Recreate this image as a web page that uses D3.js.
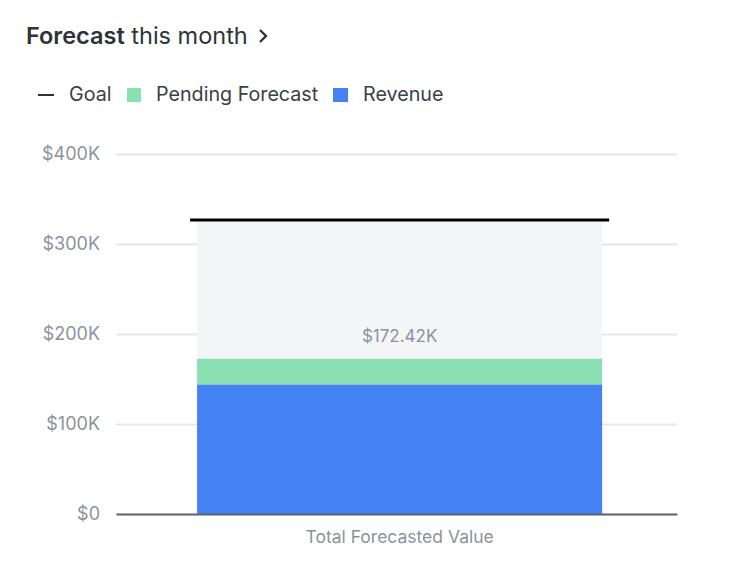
<!DOCTYPE html>
<html lang="en">
<head>
    <meta charset="UTF-8">
    <title>Forecast this month</title>
    <script src="https://cdnjs.cloudflare.com/ajax/libs/d3/7.8.5/d3.min.js"></script>
    <style>
        body { margin: 0; background: #fff; }
        text { font-family: Inter, "Noto Sans", sans-serif; }
    </style>
</head>
<body>
    <div id="chart"></div>
    <script>
        // data
        const categories = ['Total Forecasted Value'];
        const revenue = [144000];
        const pending = [28420];
        const goal = [325500];
        const yTicks = [0, 100000, 200000, 300000, 400000];
        const yTickLabels = ['$0', '$100K', '$200K', '$300K', '$400K'];
        const legendItems = ['Goal', 'Pending Forecast', 'Revenue'];

        const W = 750, H = 569;
        const margin = { top: 154, right: 73, bottom: 55, left: 116 };

        const svg = d3.select('#chart')
            .append('svg')
            .attr('width', W)
            .attr('height', H);

        // title
        const title = svg.append('text')
            .attr('x', 26)
            .attr('y', 44)
            .attr('font-size', 23.5)
            .attr('fill', '#2d3339');
        title.append('tspan').attr('font-weight', 600).text('Forecast');
        title.append('tspan').text(' this month');
        // chevron
        svg.append('path')
            .attr('d', 'M260,30 L266,36 L260,42')
            .attr('fill', 'none')
            .attr('stroke', '#2d3339')
            .attr('stroke-width', 2.4);

        // legend
        const lg = svg.append('g').attr('font-size', 19.7).attr('fill', '#3a4046');
        lg.append('line')
            .attr('x1', 38).attr('x2', 54).attr('y1', 95).attr('y2', 95)
            .attr('stroke', '#2d3339').attr('stroke-width', 2);
        lg.append('text').attr('x', 69).attr('y', 101).text(legendItems[0]);
        lg.append('rect').attr('x', 127).attr('y', 88).attr('width', 14).attr('height', 14).attr('fill', '#8adfb3');
        lg.append('text').attr('x', 156).attr('y', 101).text(legendItems[1]);
        lg.append('rect').attr('x', 333).attr('y', 88).attr('width', 15).attr('height', 14).attr('fill', '#4481f2');
        lg.append('text').attr('x', 363).attr('y', 101).text(legendItems[2]);

        // scales
        const y = d3.scaleLinear()
            .domain([0, 400000])
            .range([H - margin.bottom, margin.top]);

        const x = d3.scaleBand()
            .domain(categories)
            .range([margin.left, W - margin.right])
            .padding(0.1614)
            .align(0.52);

        // grid + y labels
        const yAxis = d3.axisLeft(y)
            .tickValues(yTicks)
            .tickSize(-(W - margin.left - margin.right))
            .tickPadding(16)
            .tickFormat(function (d, i) { return yTickLabels[i]; });

        const gy = svg.append('g')
            .attr('transform', `translate(${margin.left},0)`)
            .call(yAxis);
        gy.select('.domain').remove();
        gy.selectAll('.tick line').attr('stroke', '#e3e7ec').attr('stroke-width', 2);
        gy.selectAll('.tick text')
            .attr('fill', '#8b939c')
            .attr('font-size', 18)
            .attr('font-family', 'Inter, "Noto Sans", sans-serif');

        // goal background bar
        svg.selectAll('.bg')
            .data(categories)
            .enter()
            .append('rect')
            .attr('x', function (d) { return x(d); })
            .attr('width', x.bandwidth())
            .attr('y', function (d, i) { return y(goal[i]); })
            .attr('height', function (d, i) { return y(0) - y(goal[i]); })
            .attr('fill', '#f4f5f7');

        // revenue
        svg.selectAll('.rev')
            .data(categories)
            .enter()
            .append('rect')
            .attr('x', function (d) { return x(d); })
            .attr('width', x.bandwidth())
            .attr('y', function (d, i) { return y(revenue[i]); })
            .attr('height', function (d, i) { return y(0) - y(revenue[i]); })
            .attr('fill', '#4481f2');

        // pending stacked on top
        svg.selectAll('.pend')
            .data(categories)
            .enter()
            .append('rect')
            .attr('x', function (d) { return x(d); })
            .attr('width', x.bandwidth())
            .attr('y', function (d, i) { return y(revenue[i] + pending[i]); })
            .attr('height', function (d, i) { return y(revenue[i]) - y(revenue[i] + pending[i]); })
            .attr('fill', '#8adfb3');

        // total label
        svg.selectAll('.total')
            .data(categories)
            .enter()
            .append('text')
            .attr('x', function (d) { return x(d) + x.bandwidth() / 2; })
            .attr('y', function (d, i) { return y(revenue[i] + pending[i]) - 17; })
            .attr('text-anchor', 'middle')
            .attr('font-size', 17)
            .attr('fill', '#8b939c')
            .text(function (d, i) { return '$' + d3.format('.2f')((revenue[i] + pending[i]) / 1000) + 'K'; });

        // goal line
        svg.selectAll('.goal')
            .data(categories)
            .enter()
            .append('line')
            .attr('x1', function (d) { return x(d) - 7; })
            .attr('x2', function (d) { return x(d) + x.bandwidth() + 7; })
            .attr('y1', function (d, i) { return y(goal[i]) - 1; })
            .attr('y2', function (d, i) { return y(goal[i]) - 1; })
            .attr('stroke', '#000')
            .attr('stroke-width', 3);

        // x axis
        const xAxis = d3.axisBottom(x).tickSize(0).tickPadding(17);
        const gx = svg.append('g')
            .attr('transform', `translate(0,${y(0)})`)
            .call(xAxis);
        gx.select('.domain').attr('stroke', '#5f656b').attr('stroke-width', 2);
        gx.selectAll('.tick text')
            .attr('fill', '#8b939c')
            .attr('font-size', 17.5)
            .attr('font-family', 'Inter, "Noto Sans", sans-serif');
    </script>
</body>
</html>
